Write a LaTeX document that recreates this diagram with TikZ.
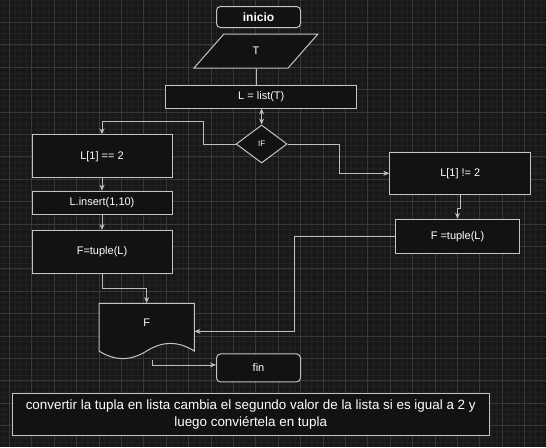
\documentclass[tikz,border=0pt]{standalone}
\usepackage{fontspec}
\setmainfont{Liberation Sans}
\usetikzlibrary{arrows.meta, positioning, shapes.geometric}
\definecolor{bgcol}{RGB}{24,24,24}
\definecolor{gridmin}{RGB}{33,33,33}
\definecolor{gridmaj}{RGB}{56,56,56}
\definecolor{boxcol}{RGB}{18,18,18}
\definecolor{edgecol}{RGB}{196,196,196}
\definecolor{linecol}{RGB}{190,190,190}

\begin{document}
\begin{tikzpicture}[x=1pt, y=-1pt,
        every node/.style={font=\fontsize{11}{13}\selectfont, text=white},
        box/.style={rectangle, draw=edgecol, fill=boxcol, line width=1pt, inner sep=0pt},
        term/.style={box, rounded corners=4pt},
        io/.style={trapezium, draw=edgecol, fill=boxcol, line width=1pt, inner sep=0pt,
          trapezium left angle=67.6, trapezium right angle=112.4, trapezium stretches=true},
        cond/.style={diamond, draw=edgecol, fill=boxcol, line width=1pt, inner sep=0pt},
        flow/.style={draw=linecol, line width=0.8pt, -{Stealth[length=6pt,width=5pt]}},
        both/.style={draw=linecol, line width=0.8pt, {Stealth[length=6pt,width=5pt]}-{Stealth[length=6pt,width=5pt]}},
        link/.style={draw=linecol, line width=0.8pt},
        minor/.style={draw=gridmin, line width=0.5pt},
        major/.style={draw=gridmaj, line width=0.7pt}
      ]
      % background and grid
      \fill[bgcol] (0,0) rectangle (546,447);
      \useasboundingbox (0,0) rectangle (546,447);
      \foreach \i in {0,...,97} \draw[minor] ({3.7+5.6*\i},0) -- ({3.7+5.6*\i},447);
      \foreach \i in {0,...,79} \draw[minor] (0,{5.6*\i}) -- (546,{5.6*\i});
      \foreach \i in {0,...,24} \draw[major] ({9.3+22.4*\i},0) -- ({9.3+22.4*\i},447);
      \foreach \i in {1,...,19} \draw[major] (0,{22.4*\i}) -- (546,{22.4*\i});

      % Start, input and list
      \node[term, minimum width=84pt, minimum height=21pt, font=\fontsize{12}{14}\selectfont\bfseries] (start) at (258.5,17) {inicio};
      \node[io, minimum width=124pt, minimum height=34pt] (T) at (256,51) {T};
      \node[box, minimum width=191pt, minimum height=23pt] (list) at (261.3,96.5) {L = list(T)};
      \draw[link] (T.south) -- (T.south |- list.north);

      % Decision
      \node[cond, minimum width=51pt, minimum height=38pt, font=\fontsize{8}{10}\selectfont] (dec) at (261.6,144) {IF};
      \draw[both] (list.south -| dec.north) -- (dec.north);

      % Left branch
      \node[box, minimum width=140pt, minimum height=43pt] (eq) at (102,156.3) {L[1] == 2};
      \node[box, minimum width=140pt, minimum height=23pt] (ins) at (102,202.7) {L.insert(1,10)};
      \node[box, minimum width=140pt, minimum height=43pt] (tupA) at (102,252) {F=tuple(L)};
      \draw[flow] (dec.west) -- ++(-32,0) |- ([yshift=13pt]eq.north) -- (eq.north);
      \draw[flow] (eq) -- (ins);
      \draw[flow] (ins) -- (tupA);

      % Right branch
      \node[box, minimum width=141pt, minimum height=42pt] (neq) at (460.3,173.3) {L[1] != 2};
      \node[box, minimum width=124pt, minimum height=34pt] (tupB) at (457.5,236.3) {F =tuple(L)};
      \draw[flow] (dec.east) -- ++(52,0) |- (neq.west);
      \draw[flow] (neq.south) -- ++(0,14) -| (tupB.north);

      % Document F
      \node[minimum width=95.3pt, minimum height=56.1pt, inner sep=0pt] (doc) at (146.65,331.35) {};
      \draw[draw=edgecol, fill=boxcol, line width=1pt] (99,303.3) -- (194.3,303.3) -- (194.3,351)
        .. controls (178.4,340.9) and (162.55,340.9) .. (146.65,351)
        .. controls (130.75,361.07) and (114.87,361.07) .. (99,351) -- cycle;
      \node (Flab) at (146.65,322.5) {F};
      \draw[flow] (tupA.south) -- ++(0,14) -| (doc.north);
      \draw[flow] (tupB.west) -- ++(-100.7,0) |- (doc.east);

      % End
      \node[term, minimum width=84pt, minimum height=28pt] (fin) at (258.5,367.9) {fin};
      \coordinate (docb) at ([xshift=5.65pt]doc.south);
      \draw[flow] (docb) |- ([yshift=3pt]fin.west);

      % Note
      \node[box, minimum width=477pt, minimum height=42pt, align=center,
        font=\fontsize{13.4}{16.5}\selectfont] (note) at (250.7,414.3)
        {convertir la tupla en lista cambia el segundo valor de la lista si es igual a 2 y\\luego conviértela en tupla};
    \end{tikzpicture}
\end{document}
